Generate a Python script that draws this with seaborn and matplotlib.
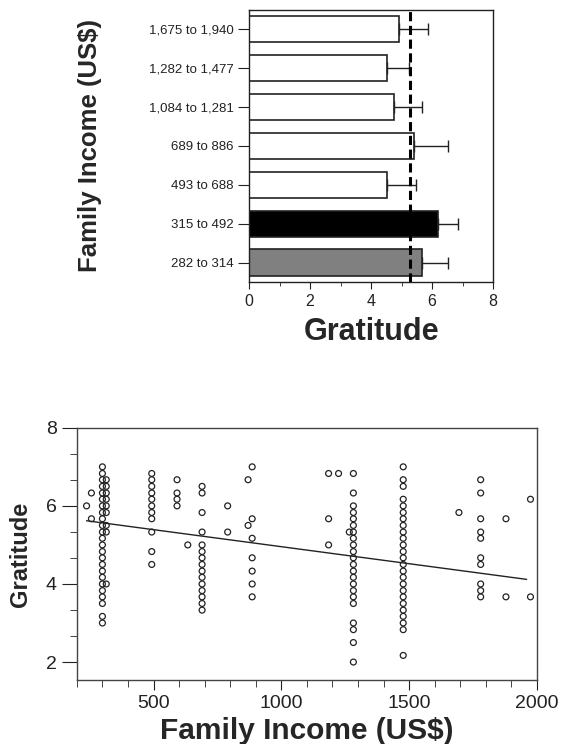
import matplotlib
matplotlib.use('Agg')
import matplotlib.pyplot as plt
from matplotlib.ticker import MultipleLocator
import seaborn as sns
import pandas as pd

# --- dados do grafico de barras ---
income_groups = ['1,675 to 1,940', '1,282 to 1,477', '1,084 to 1,281',
                 '689 to 886', '493 to 688', '315 to 492', '282 to 314']
gratitude_mean = [4.92, 4.52, 4.75, 5.41, 4.52, 6.20, 5.67]
gratitude_err = [0.95, 0.73, 0.92, 1.12, 0.95, 0.66, 0.86]
bar_colors = ['white', 'white', 'white', 'white', 'white', 'black', '#808080']
overall_mean = 5.28

# --- dados do grafico de dispersao (uma coluna por renda) ---
col_income = [238, 257, 300, 315, 493, 592, 634, 690, 790, 870, 886,
              1185, 1224, 1266, 1282, 1477, 1695, 1780, 1879, 1975]
col_gratitude = [
    [6.0],
    [6.33, 5.67],
    [7.0, 6.83, 6.67, 6.5, 6.33, 6.17, 6.0, 5.83, 5.67, 5.5, 5.33, 5.17,
     5.0, 4.83, 4.67, 4.5, 4.33, 4.17, 4.0, 3.83, 3.67, 3.5, 3.17, 3.0],
    [6.67, 6.5, 6.33, 6.17, 6.0, 5.83, 5.5, 5.33, 4.0],
    [6.83, 6.67, 6.5, 6.33, 6.17, 6.0, 5.83, 5.67, 5.33, 4.83, 4.5],
    [6.67, 6.33, 6.17, 6.0],
    [5.0],
    [6.5, 6.33, 5.83, 5.33, 5.0, 4.83, 4.67, 4.5, 4.33, 4.17, 4.0, 3.83,
     3.67, 3.5, 3.33],
    [6.0, 5.33],
    [6.67, 5.5],
    [7.0, 5.67, 5.17, 4.67, 4.33, 4.0, 3.67],
    [6.83, 5.67, 5.0],
    [6.83],
    [5.33],
    [6.83, 6.33, 6.0, 5.83, 5.67, 5.5, 5.33, 5.17, 5.0, 4.83, 4.67, 4.5,
     4.33, 4.17, 4.0, 3.83, 3.67, 3.5, 3.0, 2.83, 2.5, 2.0],
    [7.0, 6.67, 6.5, 6.17, 6.0, 5.83, 5.67, 5.5, 5.33, 5.17, 5.0, 4.83,
     4.67, 4.5, 4.33, 4.17, 4.0, 3.83, 3.67, 3.5, 3.33, 3.17, 3.0, 2.83,
     2.17],
    [5.83],
    [6.67, 6.33, 5.67, 5.33, 5.17, 4.67, 4.5, 4.0, 3.83, 3.67],
    [5.67, 3.67],
    [6.17, 3.67],
]
# reta de regressao (muitos pontos se sobrepoem)
fit_intercept = 5.827
fit_slope = -0.000872
fit_range = [238, 1960]

sns.set_style('ticks')
plt.rcParams['font.family'] = ['Liberation Sans', 'DejaVu Sans']
plt.rcParams['axes.linewidth'] = 1.0

bars = pd.DataFrame({'grupo': income_groups, 'media': gratitude_mean})
pts = pd.DataFrame({
    'renda': [x for x, g in zip(col_income, col_gratitude) for _ in g],
    'gratidao': [v for g in col_gratitude for v in g],
})
fit = pd.DataFrame({'renda': fit_range})
fit['gratidao'] = fit_intercept + fit_slope * fit['renda']

fig = plt.figure(figsize=(5.61, 7.44), dpi=100)

# --- grafico 1: barras horizontais ---
ax1 = fig.add_axes([0.444, 0.621, 0.435, 0.366])
sns.barplot(data=bars, x='media', y='grupo', order=income_groups,
            hue='grupo', palette=dict(zip(income_groups, bar_colors)),
            legend=False, errorbar=None, width=0.67,
            edgecolor='#222222', linewidth=1.2, ax=ax1)
ax1.errorbar(gratitude_mean, range(len(income_groups)),
             xerr=[[0] * len(gratitude_err), gratitude_err],
             fmt='none', ecolor='#222222', elinewidth=1.0, capsize=4)
ax1.axvline(overall_mean, color='black', linestyle=(0, (3, 1.5)), linewidth=2.2)
ax1.set_xlim(0, 8)
ax1.set_ylim(6.5, -0.5)
ax1.xaxis.set_major_locator(MultipleLocator(2))
ax1.xaxis.set_minor_locator(MultipleLocator(1))
ax1.tick_params(axis='x', which='major', length=5, labelsize=11.5, colors='#222222')
ax1.tick_params(axis='x', which='minor', length=3, color='#222222')
ax1.tick_params(axis='y', length=8, labelsize=9.5, pad=3, colors='#222222')
for s in ax1.spines.values():
    s.set_color('#222222')
ax1.set_xlabel('Gratitude', fontsize=22, fontweight='bold', labelpad=6)
ax1.set_ylabel('Family Income (US$)', fontsize=18.5, fontweight='bold', labelpad=34)

# --- grafico 2: dispersao com reta de regressao ---
ax2 = fig.add_axes([0.137, 0.086, 0.820, 0.339])
sns.scatterplot(data=pts, x='renda', y='gratidao', marker='o', s=18,
                facecolors='none', edgecolor='#222222', linewidth=0.9, ax=ax2)
sns.lineplot(data=fit, x='renda', y='gratidao', color='#222222',
             linewidth=1.0, ax=ax2)
ax2.set_xlim(200, 2000)
ax2.set_ylim(1.54, 8)
ax2.xaxis.set_major_locator(MultipleLocator(500))
ax2.xaxis.set_minor_locator(MultipleLocator(100))
ax2.yaxis.set_major_locator(MultipleLocator(2))
ax2.yaxis.set_minor_locator(MultipleLocator(2 / 3))
ax2.tick_params(axis='both', which='major', labelsize=14, colors='#222222')
ax2.tick_params(axis='y', which='major', length=11)
ax2.tick_params(axis='x', which='major', length=7)
ax2.tick_params(axis='both', which='minor', length=5, color='#222222')
for s in ax2.spines.values():
    s.set_color('#444444')
ax2.set_xlabel('Family Income (US$)', fontsize=21.5, fontweight='bold', labelpad=4)
ax2.set_ylabel('Gratitude', fontsize=17, fontweight='bold', labelpad=10)

fig.savefig('out.png', dpi=100)
